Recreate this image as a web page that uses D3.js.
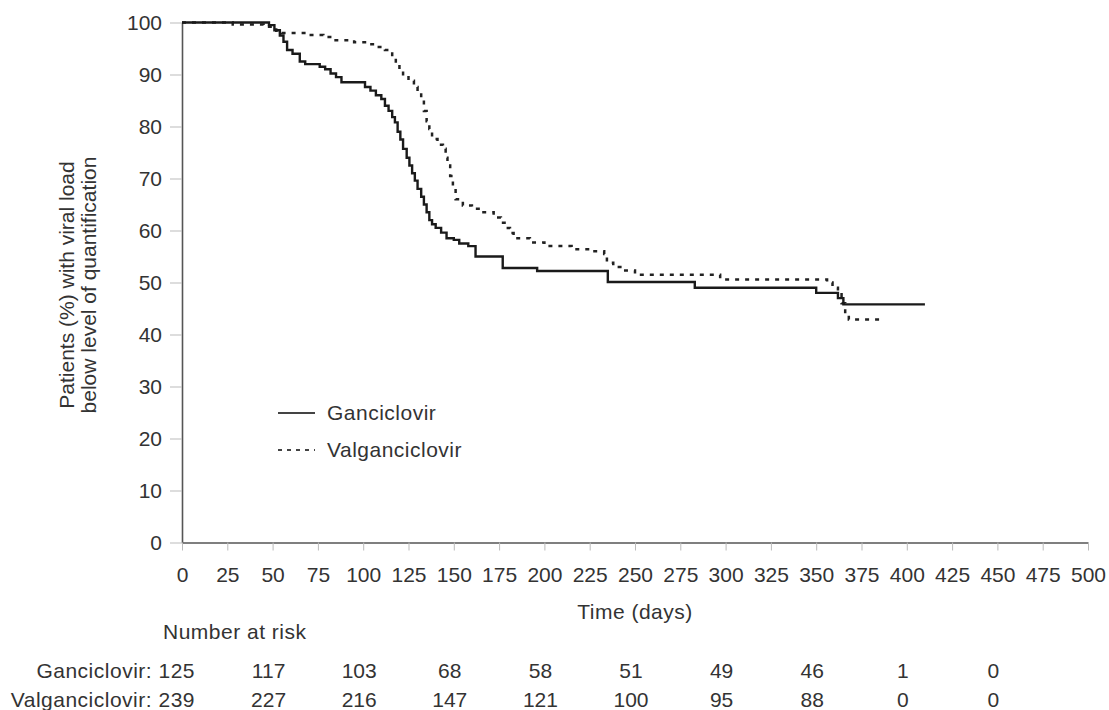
<!DOCTYPE html>
<html>
<head>
<meta charset="utf-8">
<script src="https://cdn.jsdelivr.net/npm/d3@7"></script>
<style>
  body { margin: 0; background: #fff; }
  text { font-family: "Liberation Sans", Arial, sans-serif; fill: #333; }
  .lbl { letter-spacing: 0.5px; }
</style>
</head>
<body>
<div id="chart"></div>
<script>
const svgWidth = 1109;
const svgHeight = 710;
const margins = {top: 22.5, right: 21, bottom: 167.5, left: 182};
const fontSize = "21px";

// step points: [day, percent] (value holds from that day on)
const ganciclovirSteps = [
  [0, 100], [48, 99.5], [51, 98.5], [54, 97.5], [56, 96.3], [58, 94.7], [61, 94],
  [65, 92.5], [68, 92], [76, 91.5], [79, 91], [82, 90.2], [85, 89.5], [88, 88.5],
  [101, 87.6], [104, 86.9], [107, 86], [110, 85.3], [112, 84], [114, 83], [116, 81.8],
  [117.5, 80.8], [119, 79], [120.5, 77.5], [122, 75.7], [124, 74], [125.5, 72.5],
  [127, 71], [128.5, 69.6], [130, 68], [132, 66.5], [133.5, 65], [135, 63.5],
  [136.5, 62], [138, 61.2], [140, 60.5], [143, 59.6], [146, 58.5], [150, 58.2],
  [153, 57.5], [158, 57], [162, 55], [177, 52.8], [196, 52.2], [235, 50.1],
  [283, 49], [350, 48], [362, 47], [365, 45.8], [410, 45.8]
];
const valganciclovirSteps = [
  [0, 100], [28, 99.6], [45, 99.2], [52, 98.4], [55, 98], [70, 97.6], [78, 97.2],
  [84, 96.6], [95, 96.2], [102, 95.8], [107, 95.3], [112, 94.7], [116, 93.4],
  [118, 92], [120, 91], [122, 89.8], [125, 88.8], [128, 87.6], [130, 86.5], [132, 85],
  [133.5, 83], [135, 81], [136.5, 79.5], [138, 77.6], [141, 76.5], [144, 75.7],
  [145.5, 74], [146.5, 72.5], [148, 70.5], [149.5, 68.5], [151, 66], [155, 64.8],
  [160, 64.2], [165, 63.5], [172, 62.5], [176, 61.5], [179, 60.5], [181, 59.5],
  [183, 58.5], [192, 57.7], [200, 57], [215, 56.4], [226, 56], [233, 55.5],
  [234.5, 53.8], [238, 53], [243, 52.3], [250, 51.5], [297, 50.6], [356, 50],
  [359, 49], [362, 48], [364, 46], [366, 44], [368, 42.9], [388, 42.9]
];

const seriesNames = ["Ganciclovir", "Valganciclovir"];
const xTicks = d3.range(0, 501, 25);
const yTicks = d3.range(0, 101, 10);

const riskDays = [0, 50, 100, 150, 200, 250, 300, 350, 400, 450];
const ganciclovirRisk = [125, 117, 103, 68, 58, 51, 49, 46, 1, 0];
const valganciclovirRisk = [239, 227, 216, 147, 121, 100, 95, 88, 0, 0];

const svg = d3.select("#chart")
  .append("svg")
  .attr("width", svgWidth)
  .attr("height", svgHeight);

const xScale = d3.scaleLinear()
  .domain([0, 500])
  .range([margins.left, svgWidth - margins.right]);

const yScale = d3.scaleLinear()
  .domain([0, 100])
  .range([svgHeight - margins.bottom, margins.top]);

// axes
const yAxis = svg.append("g")
  .attr("transform", "translate(" + margins.left + ",0)")
  .call(d3.axisLeft(yScale).tickValues(yTicks).tickSize(12).tickPadding(8).tickSizeOuter(0));

const xAxis = svg.append("g")
  .attr("transform", "translate(0," + (svgHeight - margins.bottom) + ")")
  .call(d3.axisBottom(xScale).tickValues(xTicks).tickSize(8).tickPadding(17).tickSizeOuter(0));

[yAxis, xAxis].forEach(function(g) {
  g.select(".domain").attr("stroke", "#555").attr("stroke-width", 1.6);
  g.selectAll(".tick line").attr("stroke", "#bbb").attr("stroke-width", 1);
  g.selectAll(".tick text")
    .attr("font-size", fontSize)
    .attr("font-family", "Liberation Sans, Arial, sans-serif")
    .attr("fill", "#333");
});

// curves
const line = d3.line()
  .x(d => xScale(d[0]))
  .y(d => yScale(d[1]))
  .curve(d3.curveStepAfter);

svg.append("path")
  .datum(valganciclovirSteps)
  .attr("fill", "none")
  .attr("stroke", "#222")
  .attr("stroke-width", 2.5)
  .attr("stroke-dasharray", "4,6")
  .attr("d", line);

svg.append("path")
  .datum(ganciclovirSteps)
  .attr("fill", "none")
  .attr("stroke", "#1a1a1a")
  .attr("stroke-width", 2.4)
  .attr("d", line);

// legend
const legend = svg.append("g").attr("transform", "translate(278,413)");
seriesNames.forEach(function(name, i) {
  const row = legend.append("g").attr("transform", "translate(0," + (i * 37) + ")");
  row.append("line")
    .attr("x1", 0).attr("x2", 37)
    .attr("stroke", "#444")
    .attr("stroke-width", 2)
    .attr("stroke-dasharray", i === 0 ? null : "4,5");
  row.append("text")
    .attr("class", "lbl")
    .attr("x", 49)
    .attr("y", 7)
    .attr("font-size", fontSize)
    .text(name);
});

// axis titles
const yLabel = svg.append("text")
  .attr("transform", "translate(74,285) rotate(-90)")
  .attr("text-anchor", "middle")
  .attr("font-size", fontSize);
yLabel.append("tspan").attr("x", 0).attr("dy", 0).text("Patients (%) with viral load");
yLabel.append("tspan").attr("x", 0).attr("dy", 22).text("below level of quantification");

svg.append("text")
  .attr("class", "lbl")
  .attr("x", (xScale(0) + xScale(500)) / 2)
  .attr("y", 619)
  .attr("text-anchor", "middle")
  .attr("font-size", fontSize)
  .text("Time (days)");

// number at risk table
svg.append("text")
  .attr("class", "lbl")
  .attr("x", 163)
  .attr("y", 639)
  .attr("font-size", fontSize)
  .text("Number at risk");

const riskRows = [
  {name: seriesNames[0], values: ganciclovirRisk, y: 678},
  {name: seriesNames[1], values: valganciclovirRisk, y: 707}
];

riskRows.forEach(function(row) {
  svg.append("text")
    .attr("class", "lbl")
    .attr("x", 195)
    .attr("y", row.y)
    .attr("text-anchor", "end")
    .attr("font-size", fontSize)
    .text(row.name + ": " + row.values[0]);

  svg.append("g")
    .selectAll("text")
    .data(row.values.slice(1))
    .join("text")
      .attr("x", (d, i) => xScale(riskDays[i + 1]) - 4)
      .attr("y", row.y)
      .attr("text-anchor", "middle")
      .attr("font-size", fontSize)
      .text(d => d);
});
</script>
</body>
</html>
